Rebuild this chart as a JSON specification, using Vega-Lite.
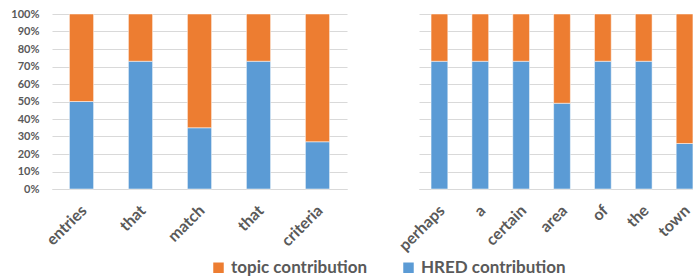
{
  "$schema": "https://vega.github.io/schema/vega-lite/v6.json",
  "background": "white",
  "padding": {"left": 10, "top": 8, "right": 0, "bottom": 0},
  "data": {"values": [
    {"panel": "L", "key": "1:entries", "series": "HRED contribution", "value": 50},
    {"panel": "L", "key": "1:entries", "series": "topic contribution", "value": 50},
    {"panel": "L", "key": "2:that", "series": "HRED contribution", "value": 73},
    {"panel": "L", "key": "2:that", "series": "topic contribution", "value": 27},
    {"panel": "L", "key": "3:match", "series": "HRED contribution", "value": 35},
    {"panel": "L", "key": "3:match", "series": "topic contribution", "value": 65},
    {"panel": "L", "key": "4:that", "series": "HRED contribution", "value": 73},
    {"panel": "L", "key": "4:that", "series": "topic contribution", "value": 27},
    {"panel": "L", "key": "5:criteria", "series": "HRED contribution", "value": 27},
    {"panel": "L", "key": "5:criteria", "series": "topic contribution", "value": 73},
    {"panel": "R", "key": "1:perhaps", "series": "HRED contribution", "value": 73},
    {"panel": "R", "key": "1:perhaps", "series": "topic contribution", "value": 27},
    {"panel": "R", "key": "2:a", "series": "HRED contribution", "value": 73},
    {"panel": "R", "key": "2:a", "series": "topic contribution", "value": 27},
    {"panel": "R", "key": "3:certain", "series": "HRED contribution", "value": 73},
    {"panel": "R", "key": "3:certain", "series": "topic contribution", "value": 27},
    {"panel": "R", "key": "4:area", "series": "HRED contribution", "value": 49},
    {"panel": "R", "key": "4:area", "series": "topic contribution", "value": 51},
    {"panel": "R", "key": "5:of", "series": "HRED contribution", "value": 73},
    {"panel": "R", "key": "5:of", "series": "topic contribution", "value": 27},
    {"panel": "R", "key": "6:the", "series": "HRED contribution", "value": 73},
    {"panel": "R", "key": "6:the", "series": "topic contribution", "value": 27},
    {"panel": "R", "key": "7:town", "series": "HRED contribution", "value": 26},
    {"panel": "R", "key": "7:town", "series": "topic contribution", "value": 74}
  ]},
  "config": {
    "view": {"stroke": null},
    "font": "Lato",
    "concat": {"spacing": 48},
    "axis": {
      "labelFont": "Lato",
      "labelFontWeight": "bold",
      "labelColor": "#595959",
      "gridColor": "#d9d9d9",
      "gridWidth": 1,
      "domain": false,
      "ticks": false,
      "title": null
    }
  },
  "hconcat": [
    {
      "width": 295,
      "height": 175,
      "transform": [{"filter": "datum.panel == 'L'"}],
      "mark": {"type": "bar", "stroke": "white", "strokeWidth": 1, "strokeOpacity": 0.5},
      "encoding": {
        "x": {"field": "key", "type": "nominal", "sort": null,
          "scale": {"paddingInner": 0.59, "paddingOuter": 0.295},
          "axis": {"labelExpr": "split(datum.label, ':')[1]", "labelAngle": -45, "labelFontSize": 16, "labelPadding": 13, "labelOffset": -3, "domain": true, "domainColor": "#d9d9d9", "grid": false}},
        "y": {"field": "value", "type": "quantitative", "stack": "normalize",
          "axis": {"format": ".0%", "values": [0, 0.1, 0.2, 0.3, 0.4, 0.5, 0.6, 0.7, 0.8, 0.9, 1], "labelFontSize": 11, "labelPadding": 13}},
        "color": {"field": "series", "type": "nominal",
          "scale": {"domain": ["topic contribution", "HRED contribution"], "range": ["#ED7D31", "#5B9BD5"]},
          "legend": {"orient": "none", "legendX": 158, "legendY": 245, "direction": "horizontal", "title": null,
            "symbolType": "square", "symbolSize": 110, "symbolStrokeWidth": 0, "symbolOpacity": 1,
            "labelFontSize": 17, "labelFontWeight": "bold", "labelColor": "#595959", "labelFont": "Lato",
            "columnPadding": 32, "labelOffset": 4}},
        "order": {"field": "series", "sort": "ascending"}
      }
    },
    {
      "width": 286,
      "height": 175,
      "transform": [{"filter": "datum.panel == 'R'"}],
      "mark": {"type": "bar", "stroke": "white", "strokeWidth": 1, "strokeOpacity": 0.5},
      "encoding": {
        "x": {"field": "key", "type": "nominal", "sort": null,
          "scale": {"paddingInner": 0.59, "paddingOuter": 0.295},
          "axis": {"labelExpr": "split(datum.label, ':')[1]", "labelAngle": -45, "labelFontSize": 16, "labelPadding": 13, "labelOffset": -3, "domain": true, "domainColor": "#d9d9d9", "grid": false}},
        "y": {"field": "value", "type": "quantitative", "stack": "normalize",
          "axis": {"labels": false, "values": [0, 0.1, 0.2, 0.3, 0.4, 0.5, 0.6, 0.7, 0.8, 0.9, 1]}},
        "color": {"field": "series", "type": "nominal",
          "scale": {"domain": ["topic contribution", "HRED contribution"], "range": ["#ED7D31", "#5B9BD5"]}},
        "order": {"field": "series", "sort": "ascending"}
      }
    }
  ],
  "resolve": {"scale": {"x": "independent", "y": "independent"}}
}
